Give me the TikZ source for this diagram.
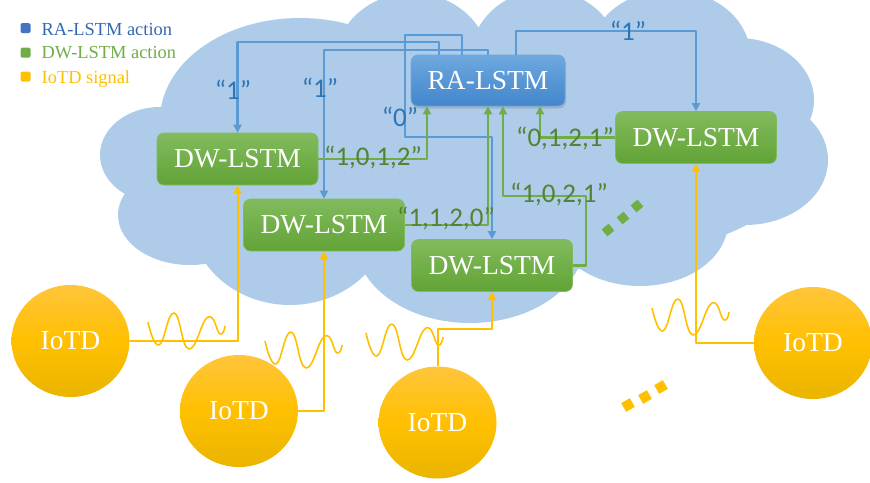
\documentclass[tikz,border=0pt]{standalone}
\usepackage{fontspec}
\setmainfont{Liberation Serif}
\newfontfamily\labelfont{Carlito}
\usetikzlibrary{arrows.meta,shadows,shapes.geometric}
\definecolor{cloudblue}{RGB}{174,204,233}
\definecolor{rablue}{RGB}{91,155,213}
\definecolor{ratop}{RGB}{110,168,222}
\definecolor{rabottom}{RGB}{66,134,204}
\definecolor{ralabel}{RGB}{46,117,182}
\definecolor{dwgreen}{RGB}{112,173,71}
\definecolor{dwtop}{RGB}{130,187,94}
\definecolor{dwbottom}{RGB}{98,163,54}
\definecolor{dwlabel}{RGB}{84,130,53}
\definecolor{iotgold}{RGB}{255,192,0}
\definecolor{iottop}{RGB}{255,197,60}
\definecolor{iotbottom}{RGB}{234,180,0}
\definecolor{legblue}{RGB}{68,114,196}
\definecolor{legbluetext}{RGB}{52,104,178}

\begin{document}
\begin{tikzpicture}[x=1pt,y=-1pt,>={Triangle[length=8pt,width=8pt]},line join=round,
    lstm/.style={rounded corners=7pt,inner sep=0pt,text=white,
      minimum width=161pt,minimum height=52pt,font=\fontsize{27.5}{30}\selectfont},
    dwbox/.style={lstm,draw=dwtop,line width=0.6pt,top color=dwtop,bottom color=dwbottom},
    rabox/.style={lstm,minimum width=154pt,minimum height=51pt,draw=ratop,line width=0.6pt,
      top color=ratop,bottom color=rabottom,
      drop shadow={opacity=0.35,shadow xshift=1pt,shadow yshift=-2.5pt}},
    iotd/.style={ellipse,inner sep=0pt,minimum width=118pt,minimum height=112pt,text=white,
      top color=iottop,bottom color=iotbottom,middle color=iotgold,
      font=\fontsize{27.5}{30}\selectfont},
    raline/.style={draw=rablue,line width=2.4pt,->},
    dwline/.style={draw=dwgreen,line width=2.4pt,->},
    iotline/.style={draw=iotgold,line width=2pt,->},
    ralbl/.style={text=ralabel,inner sep=0pt,font=\labelfont\fontsize{27}{30}\selectfont},
    dwlbl/.style={text=dwlabel,inner sep=0pt,font=\labelfont\fontsize{27}{30}\selectfont},
    legkey/.style={rounded corners=1.5pt,minimum size=10pt,inner sep=0pt},
    legtext/.style={anchor=base west,inner sep=0pt,font=\fontsize{18.4}{20}\selectfont},
    signalwave/.pic={\draw[iotgold,line width=1.6pt] plot[smooth,tension=0.8]
      coordinates {(0,0) (11,23) (26,-9) (41,27) (60,-5) (72,12) (77,4)};}]
\useasboundingbox (0,0) rectangle (870,482);
% cloud
\fill[cloudblue] (470,165) ellipse [x radius=330,y radius=110];
\foreach \cx/\cy/\rx/\ry in {300/120/140/102,412/65/78/72,545/60/75/70,670/55/80/65,
    738/100/76/62,745/160/83/65,640/222/88/64,470/240/115/83,290/215/100/90,
    190/215/72/50,160/155/60/48}
  \fill[cloudblue] (\cx,\cy) ellipse [x radius=\rx,y radius=\ry];

% legend
\node[legkey,fill=legblue] (keyRA) at (25.5,28) {};
\node[legkey,fill=dwgreen] (keyDW) at (25.5,52.5) {};
\node[legkey,fill=iotgold] (keyIoT) at (25.5,76.5) {};
\node[legtext,text=legbluetext] (legRA) at (41.5,35) {RA-LSTM action};
\node[legtext,text=dwgreen] (legDW) at (41.5,58.5) {DW-LSTM action};
\node[legtext,text=iotgold] (legIoT) at (41.5,83) {IoTD signal};

% LSTM agents
\node[rabox] (ra) at (488,80.5) {RA-LSTM};
\node[dwbox] (dwA) at (237.5,159) {DW-LSTM};
\node[dwbox] (dwB) at (324,225) {DW-LSTM};
\node[dwbox] (dwC) at (492,265.5) {DW-LSTM};
\node[dwbox] (dwD) at (696,137.5) {DW-LSTM};

% devices
\node[iotd] (iotA) at (70.5,341) {IoTD};
\node[iotd] (iotB) at (239,411) {IoTD};
\node[iotd] (iotC) at (437.5,422.5) {IoTD};
\node[iotd] (iotD) at (813,343) {IoTD};

% RA-LSTM actions
\draw[raline] (ra.north -| 439,0) -- (439,42) -| (dwA.north);
\draw[raline] (ra.north) -- (488,50) -| (dwB.north);
\draw[raline] (ra.north -| 462,0) -- (462,35) -| (405,137) -| (dwC.north);
\draw[raline] (ra.north -| 516,0) -- (516,31) -| (dwD.north);

% DW-LSTM actions
\draw[dwline] (dwA.east) -| (ra.south -| 427,0);
\draw[dwline] (dwB.east) -| (ra.south);
\draw[dwline] (dwC.east) -| (586,196) -| (ra.south -| 503,0);
\draw[dwline] (dwD.west) -| (ra.south -| 540,0);

% IoTD signals
\draw[iotline] (iotA.east) -| (dwA.south);
\draw[iotline] (iotB.east) -| (dwB.south);
\draw[iotline] (iotC.north) -- (437.5,329) -| (dwC.south);
\draw[iotline] (iotD.west) -| (dwD.south);
\pic at (148,322) {signalwave};
\pic at (265,341) {signalwave};
\pic at (366,333) {signalwave};
\pic at (652,308) {signalwave};

% labels
\node[ralbl] (lblA) at (233,90) {“1”};
\node[ralbl] (lblB) at (320,88) {“1”};
\node[ralbl] (lblC) at (400,117) {“0”};
\node[ralbl] (lblD) at (628,31) {“1”};
\node[dwlbl] (lblAra) at (373,157) {“1,0,1,2”};
\node[dwlbl] (lblBra) at (446,218) {“1,1,2,0”};
\node[dwlbl] (lblDra) at (565,138) {“0,1,2,1”};
\node[dwlbl] (lblCra) at (559,194) {“1,0,2,1”};

% more agents and devices
\foreach \px/\py in {608/230,623/218,637/206}
  \fill[dwgreen,rotate around={40:(\px,\py)}] (\px-4.5,\py-4.5) rectangle ++(9,9);
\foreach \px/\py in {628/405,645/397,661/387}
  \fill[iotgold,rotate around={30:(\px,\py)}] (\px-5,\py-5) rectangle ++(10,10);
\end{tikzpicture}
\end{document}
